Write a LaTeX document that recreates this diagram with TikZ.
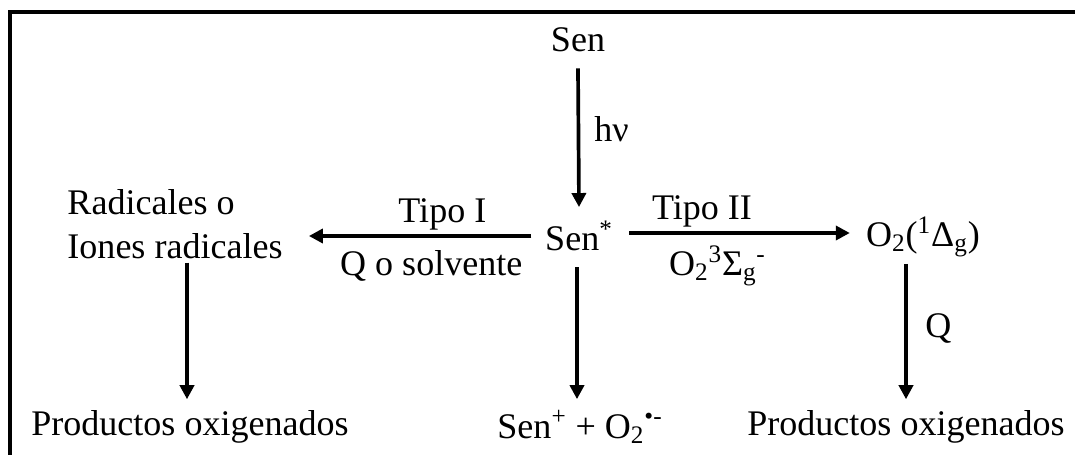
\documentclass[tikz,border=0pt]{standalone}
\usepackage{fontspec}
\setmainfont{Liberation Serif}
\usepackage{tikz}
\usetikzlibrary{arrows.meta, positioning, calc}
\usepackage{xcolor}
\definecolor{Ink}{HTML}{000000}

\begin{document}
\begin{tikzpicture}[
            chem/.style={inner sep=2pt, font=\fontsize{20.5}{25}\selectfont, text=Ink},
            arrow/.style={-{Triangle[length=8pt, width=8pt]}, line width=2.1pt, color=Ink},
            lbl/.style={font=\fontsize{20.5}{25}\selectfont, text=Ink, inner sep=2pt}
        ]
            \useasboundingbox (0,0) rectangle (21.5,-9.1);
            \clip (0,0) rectangle (21.5,-9.1);
            % Frame
            \draw[line width=2.3pt] (0.2,-9.5) |- (21.9,-0.24);

            % Sensitizer
            \node[chem] (sen) at (11.56,-0.8) {Sen};
            \node[chem] (senx) at (11.58,-4.72) {Sen\textsuperscript{*}};

            % Side products
            \node[chem, align=left] (rad) at (3.5,-4.48) {Radicales o\\Iones radicales};
            \node[chem] (singlet) at (18.46,-4.74) {O\textsubscript{2}(\textsuperscript{1}Δ\textsubscript{g})};

            % Final products
            \node[chem] (prodleft) at (3.8,-8.54) {Productos oxigenados};
            \node[chem] (ions) at (11.6,-8.54) {Sen\textsuperscript{+} + O\textsubscript{2}\textsuperscript{•-}};
            \node[chem] (prodright) at (18.12,-8.54) {Productos oxigenados};

            % Connections
            \draw[arrow] ([yshift=-0.25cm]sen.south) -- node[lbl, right=6pt, pos=0.44]{hν} ([yshift=0.2cm]senx.north);
            \draw[arrow] ([xshift=-0.2cm]senx.west) -- node[lbl, above, pos=0.4]{Tipo I} node[lbl, below=5pt, pos=0.45]{Q o solvente} ([xshift=0.45cm]senx.west -| rad.east);
            \draw[arrow] ([xshift=0.25cm,yshift=0.06cm]senx.east) -- node[lbl, above, pos=0.33]{Tipo II} node[lbl, below=4pt, pos=0.4]{O\textsubscript{2}\textsuperscript{3}Σ\textsubscript{g}\textsuperscript{-}} ([xshift=-0.25cm,yshift=0.06cm]senx.east -| singlet.west);
            \draw[arrow] ([xshift=-0.06cm]rad.south -| prodleft.north) -- ([xshift=-0.06cm,yshift=0.15cm]prodleft.north);
            \draw[arrow] ([xshift=-0.04cm,yshift=-0.25cm]senx.south) -- ([xshift=-0.04cm,yshift=0.15cm]senx.south |- ions.north);
            \draw[arrow] ([yshift=-0.05cm]singlet.south -| prodright.north) -- node[lbl, right=8pt, pos=0.48]{Q} ([yshift=0.15cm]prodright.north);
        \end{tikzpicture}
\end{document}
